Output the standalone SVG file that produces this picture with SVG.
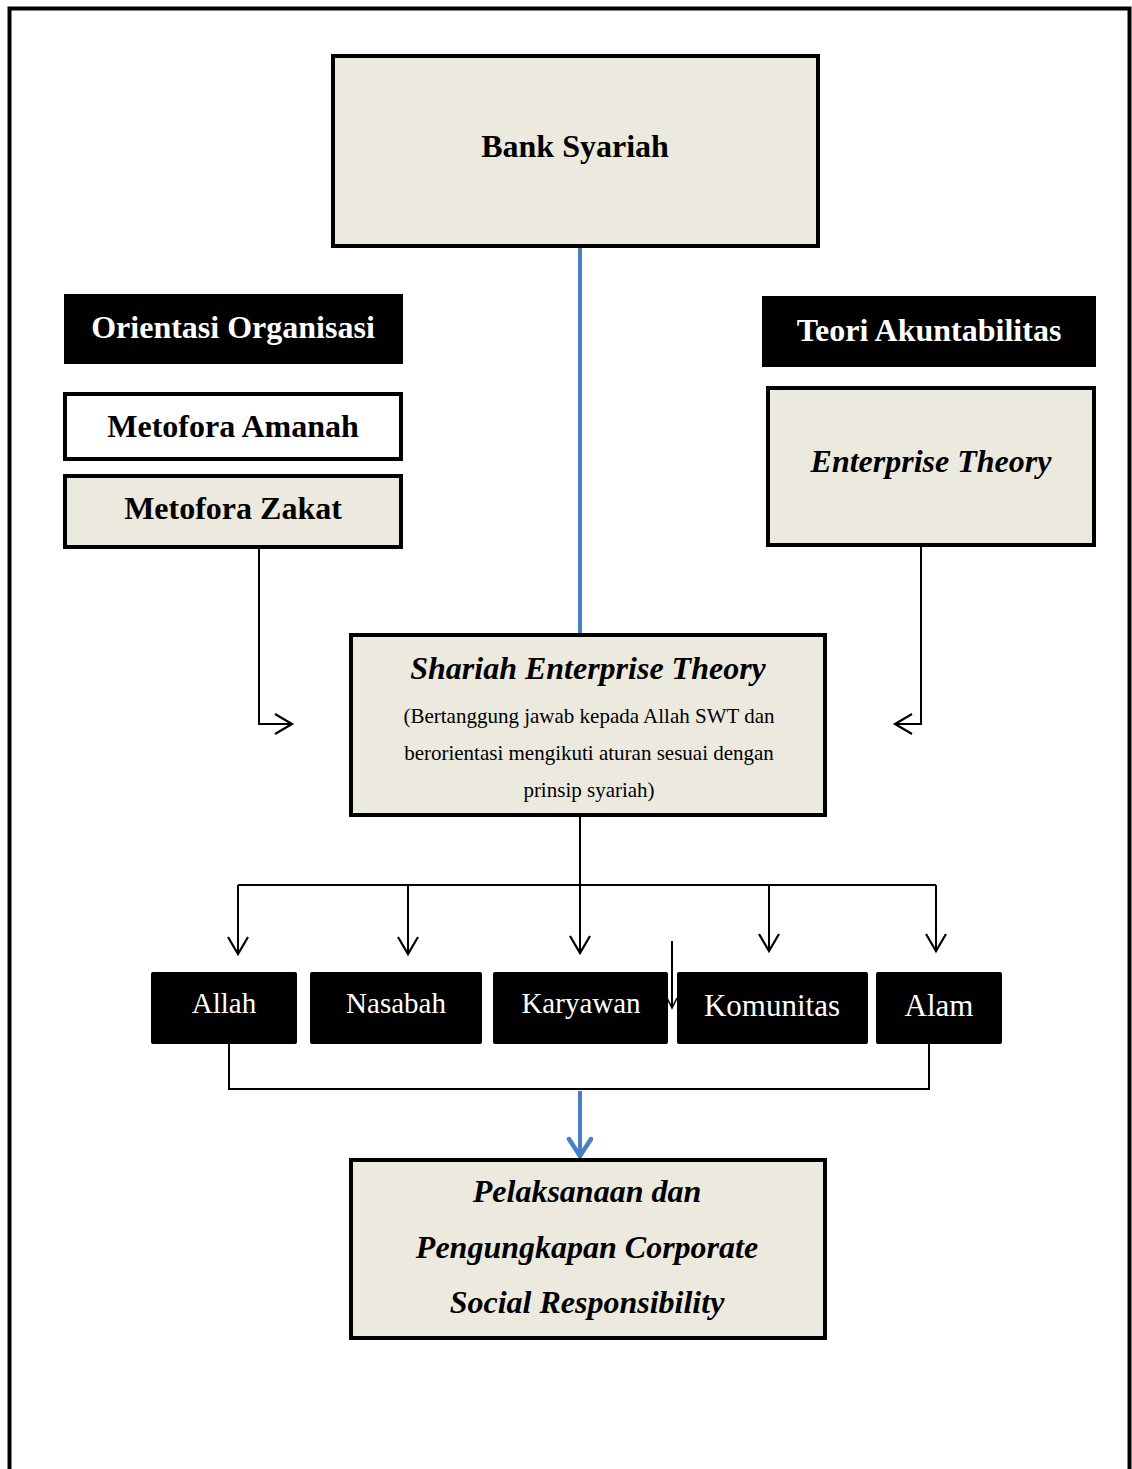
<svg xmlns="http://www.w3.org/2000/svg" width="1132" height="1469" viewBox="0 0 1132 1469">
<style>
.bx{fill:#ECE9DF;stroke:#000;stroke-width:4}
.wb{fill:#fff;stroke:#000;stroke-width:4}
.blk{fill:#000}
.t{font-family:"Liberation Serif","Times New Roman",serif;text-anchor:middle}
.b{font-weight:bold}
.i{font-style:italic}
.ln{fill:none;stroke:#000;stroke-width:2}
.bl{fill:none;stroke:#4A7FC1;stroke-width:4}
</style>
<defs>
<marker id="ar" markerWidth="22" markerHeight="24" refX="18" refY="11" orient="auto" markerUnits="userSpaceOnUse">
<path d="M1,1 L18,11 L1,21" fill="none" stroke="#000" stroke-width="2.2"/>
</marker>
<marker id="ars" markerWidth="14" markerHeight="14" refX="11" refY="6" orient="auto" markerUnits="userSpaceOnUse">
<path d="M1,1 L11,6 L1,11" fill="none" stroke="#000" stroke-width="1.6"/>
</marker>
<marker id="arb" markerWidth="26" markerHeight="28" refX="20" refY="13" orient="auto" markerUnits="userSpaceOnUse">
<path d="M3,2 L20,13 L3,24" fill="none" stroke="#4A7FC1" stroke-width="4.5" stroke-linecap="round" stroke-linejoin="round"/>
</marker>
</defs>
<rect width="1132" height="1469" fill="#fff"/>
<rect x="9.5" y="8.5" width="1120" height="1520" fill="none" stroke="#000" stroke-width="4"/>

<g id="connectors">
<line class="bl" x1="580" y1="247" x2="580" y2="636"/>
<polyline class="ln" points="259,547 259,724 292,724" marker-end="url(#ar)"/>
<polyline class="ln" points="921,545 921,724 895,724" marker-end="url(#ar)"/>
<line class="ln" x1="580" y1="815" x2="580" y2="953" marker-end="url(#ar)"/>
<line class="ln" x1="238" y1="885" x2="936" y2="885"/>
<line class="ln" x1="238" y1="885" x2="238" y2="954" marker-end="url(#ar)"/>
<line class="ln" x1="408" y1="885" x2="408" y2="954" marker-end="url(#ar)"/>
<line class="ln" x1="769" y1="885" x2="769" y2="951" marker-end="url(#ar)"/>
<line class="ln" x1="936" y1="885" x2="936" y2="951" marker-end="url(#ar)"/>
<line class="ln" x1="672" y1="941" x2="672" y2="1008" marker-end="url(#ars)"/>
<polyline class="ln" points="229,1044 229,1089 929,1089 929,1044"/>
<line class="bl" x1="580" y1="1091" x2="580" y2="1156" marker-end="url(#arb)"/>
</g>

<g id="bank-syariah">
<rect class="bx" x="333" y="56" width="485" height="190"/>
<text class="t b" x="575" y="157" font-size="32">Bank Syariah</text>
</g>

<g id="orientasi-organisasi">
<rect class="blk" x="64" y="294" width="339" height="70"/>
<text class="t b" x="233" y="338" font-size="32" fill="#fff">Orientasi Organisasi</text>
</g>

<g id="metofora-amanah">
<rect class="wb" x="65" y="394" width="336" height="65"/>
<text class="t b" x="233" y="437" font-size="32">Metofora Amanah</text>
</g>

<g id="metofora-zakat">
<rect class="bx" x="65" y="476" width="336" height="71"/>
<text class="t b" x="233" y="519" font-size="32">Metofora Zakat</text>
</g>

<g id="teori-akuntabilitas">
<rect class="blk" x="762" y="296" width="334" height="71"/>
<text class="t b" x="929" y="341" font-size="32" fill="#fff">Teori Akuntabilitas</text>
</g>

<g id="enterprise-theory">
<rect class="bx" x="768" y="388" width="326" height="157"/>
<text class="t b i" x="931" y="472" font-size="32">Enterprise Theory</text>
</g>

<g id="shariah-enterprise-theory">
<rect class="bx" x="351" y="635" width="474" height="180"/>
<text class="t b i" x="588" y="679" font-size="32">Shariah Enterprise Theory</text>
<text class="t" x="589" y="723" font-size="21">(Bertanggung jawab kepada Allah SWT dan</text>
<text class="t" x="589" y="760" font-size="21">berorientasi mengikuti aturan sesuai dengan</text>
<text class="t" x="589" y="797" font-size="21">prinsip syariah)</text>
</g>

<g id="allah">
<rect class="blk" x="151" y="972" width="146" height="72" rx="2"/>
<text class="t" x="224" y="1013" font-size="29" fill="#fff">Allah</text>
</g>
<g id="nasabah">
<rect class="blk" x="310" y="972" width="172" height="72" rx="2"/>
<text class="t" x="396" y="1013" font-size="29" fill="#fff">Nasabah</text>
</g>
<g id="karyawan">
<rect class="blk" x="493" y="972" width="175" height="72" rx="2"/>
<text class="t" x="581" y="1013" font-size="29" fill="#fff">Karyawan</text>
</g>
<g id="komunitas">
<rect class="blk" x="677" y="972" width="191" height="72" rx="2"/>
<text class="t" x="772" y="1016" font-size="31" fill="#fff">Komunitas</text>
</g>
<g id="alam">
<rect class="blk" x="876" y="972" width="126" height="72" rx="2"/>
<text class="t" x="939" y="1016" font-size="31" fill="#fff">Alam</text>
</g>

<g id="pelaksanaan-csr">
<rect class="bx" x="351" y="1160" width="474" height="178"/>
<text class="t b i" x="587" y="1202" font-size="32">Pelaksanaan dan</text>
<text class="t b i" x="587" y="1258" font-size="32">Pengungkapan Corporate</text>
<text class="t b i" x="587" y="1313" font-size="32">Social Responsibility</text>
</g>
</svg>
